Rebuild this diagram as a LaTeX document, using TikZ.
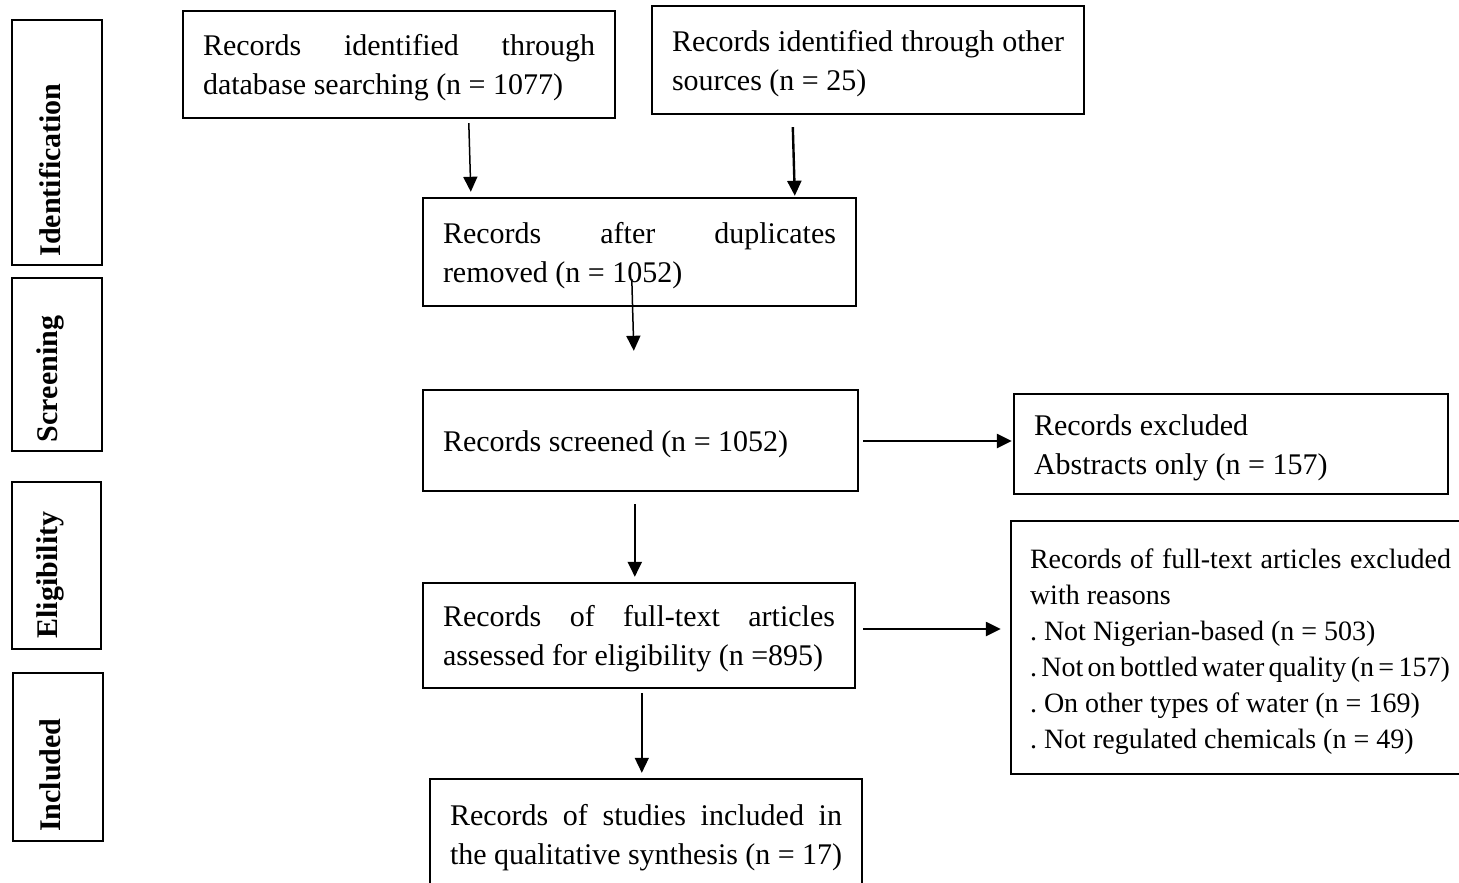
\documentclass[tikz,border=0pt]{standalone}
\usepackage{fontspec}
\setmainfont{Liberation Serif}
\usetikzlibrary{arrows.meta,calc}
\hyphenpenalty=10000
\exhyphenpenalty=10000
\frenchspacing
\begin{document}
\begin{tikzpicture}[x=0.5pt,y=-0.5pt,
  box/.style={draw, line width=1.2pt, inner sep=0pt, align=justify,
    font=\fontsize{15}{19.5}\selectfont\frenchspacing,
    execute at begin node={\rule{0pt}{14pt}}},
  phase/.style={draw, line width=0.7pt, inner sep=0pt},
  phaselabel/.style={rotate=90, inner sep=0pt, font=\fontsize{15}{16}\selectfont\bfseries},
  thinarr/.style={line width=0.75pt, -{Triangle[width=7pt,length=7.5pt]}},
  thickarr/.style={line width=1.2pt, -{Triangle[width=7pt,length=7.5pt]}}]
\useasboundingbox (0,0) rectangle (1459,882);
% phase boxes
\node[phase, minimum width=45pt, minimum height=122.5pt] (pid) at (57,142.5) {};
\node[phase, minimum width=45pt, minimum height=86.5pt] (psc) at (57,364.5) {};
\node[phase, minimum width=44.5pt, minimum height=83.5pt] (pel) at (56.5,565.5) {};
\node[phase, minimum width=45pt, minimum height=84pt] (pin) at (58,757) {};
\node[phaselabel] (lid) at (50,170) {Identification};
\node[phaselabel] (lsc) at (50,379) {Screening};
\node[phaselabel] (lel) at (50,575) {Eligibility};
\node[phaselabel] (lin) at (50,775) {Included};
% flow boxes
\node[box, minimum width=216pt, minimum height=53.5pt, text width=196pt] (a) at (399,64.5)
  {Records identified through database searching (n = 1077)};
\node[box, minimum width=216pt, minimum height=54pt, text width=196pt,
  execute at begin node={}] (b) at (868,60)
  {Records identified through other sources (n = 25)};
\node[box, minimum width=216.5pt, minimum height=54pt, text width=196.5pt] (c) at (639.5,252)
  {Records after duplicates removed (n = 1052)};
\node[box, minimum width=217.5pt, minimum height=50.5pt, text width=197.5pt, align=flush left] (d) at (640.5,440.5)
  {Records screened (n = 1052)};
\node[box, minimum width=217pt, minimum height=50pt, text width=197pt, align=flush left] (e) at (1231,444)
  {Records excluded\\Abstracts only (n = 157)};
\node[box, minimum width=216pt, minimum height=52.5pt, text width=196pt] (f) at (639,635.5)
  {Records of full-text articles assessed for eligibility (n =895)};
\node[box, minimum width=229.5pt, minimum height=126.5pt, text width=210.5pt,
  font=\fontsize{14}{18}\selectfont\frenchspacing] (g) at (1240.5,647.5)
  {Records of full-text articles excluded with reasons\\
   . Not Nigerian-based (n = 503)\\
   {\spaceskip=0.155em\relax . Not on bottled water quality (n = 157)}\\
   . On other types of water (n = 169)\\
   . Not regulated chemicals (n = 49)};
\node[box, minimum width=216pt, minimum height=55.5pt, text width=196pt] (h) at (646,834.5)
  {Records of studies included in the qualitative synthesis (n = 17)};
% connectors
\draw[thinarr] ($(a.south west)+(287,4)$) -- ($(c.north west)+(49,-5)$);
\draw[thickarr] ($(b.south west)+(142,12)$) -- ($(c.north west)+(373,-1)$);
\draw[thinarr] ($(c.south west)+(210,-28)$) -- ($(d.north west)+(212,-38)$);
\draw[thickarr] ($(d.south west)+(213,12)$) -- ($(f.north west)+(213,-5)$);
\draw[thinarr] ($(f.south west)+(220,4)$) -- ($(h.north west)+(213,-5)$);
\draw[thickarr] ($(d.east)+(4,0.5)$) -- ($(e.west)+(-1,-3)$);
\draw[thickarr] ($(f.east)+(7,-6.5)$) -- ($(g.west)+(-9,-18.5)$);
\end{tikzpicture}
\end{document}
